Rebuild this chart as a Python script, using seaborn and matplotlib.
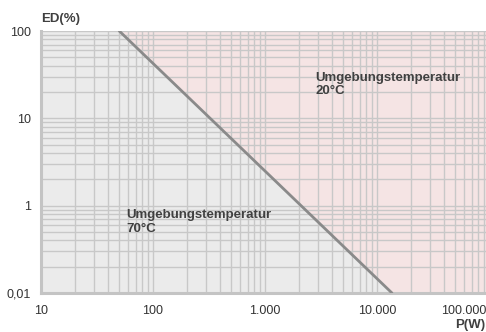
import matplotlib
matplotlib.use("Agg")
import matplotlib.pyplot as plt
import matplotlib.transforms as mtransforms
import seaborn as sns
import pandas as pd

# Derating line: duty cycle ED(%) vs. power P(W)
power_w = [50, 13600]
duty_pct = [100, 0.1]

x_ticks = [10, 100, 1000, 10000, 100000]
x_tick_labels = ["10", "100", "1.000", "10.000", "100.000"]
y_ticks = [0.1, 1, 10, 100]
y_tick_labels = ["0,01", "1", "10", "100"]

x_min, x_max = 10, 100000
y_min, y_max = 0.1, 100

sns.set_theme(style="white")
plt.rcParams["font.family"] = ["Liberation Sans", "DejaVu Sans"]

fig = plt.figure(figsize=(4.86, 3.32), dpi=100)
ax = fig.add_axes([41 / 486, 1 - 293 / 332, 448 / 486, 262 / 332])

ax.set_xscale("log")
ax.set_yscale("log")
ax.set_xlim(x_min, x_max)
ax.set_ylim(y_min, y_max)

# background zones
ax.set_facecolor("#ebebeb")
ax.fill_between(power_w + [x_max], duty_pct + [y_min], [y_max] * 3,
                color="#f5e4e4", lw=0, zorder=0)

# grid
ax.grid(True, which="both", color="#c8c8c8", lw=1.0, zorder=1)
ax.set_axisbelow(True)

df = pd.DataFrame({"P": power_w, "ED": duty_pct})
sns.lineplot(data=df, x="P", y="ED", ax=ax, color="#8a8a8a", lw=2.0, zorder=3)

ax.set_xticks(x_ticks)
ax.set_xticklabels(x_tick_labels)
ax.set_yticks(y_ticks)
ax.set_yticklabels(y_tick_labels)
ax.tick_params(axis="both", which="both", length=0, labelsize=9, colors="#333333")
ax.tick_params(axis="x", pad=9)
ax.tick_params(axis="y", pad=7)
ax.set_xlabel("")
ax.set_ylabel("")

# last x label sits a little left of its tick so it stays on the canvas
last = ax.get_xticklabels()[-1]
last.set_transform(last.get_transform()
                   + mtransforms.ScaledTranslation(-25 / 100, 0, fig.dpi_scale_trans))

for side in ["top", "right"]:
    ax.spines[side].set_visible(False)
for side in ["left", "bottom"]:
    ax.spines[side].set_color("#c4c4c4")
    ax.spines[side].set_linewidth(2.2)

ax.text(0.613, 0.845, "Umgebungstemperatur\n20°C", transform=ax.transAxes,
        fontsize=9.5, fontweight="bold", color="#404040", va="top", ha="left",
        linespacing=1.15)
ax.text(0.19, 0.32, "Umgebungstemperatur\n70°C", transform=ax.transAxes,
        fontsize=9.5, fontweight="bold", color="#404040", va="top", ha="left",
        linespacing=1.15)

fig.text(41 / 486, 1 - 19 / 332, "ED(%)", fontsize=9.5, fontweight="bold",
         color="#404040", ha="left", va="center")
fig.text(485 / 486, 1 - 325 / 332, "P(W)", fontsize=9.5, fontweight="bold",
         color="#404040", ha="right", va="center")

fig.savefig("out.png", dpi=100)
